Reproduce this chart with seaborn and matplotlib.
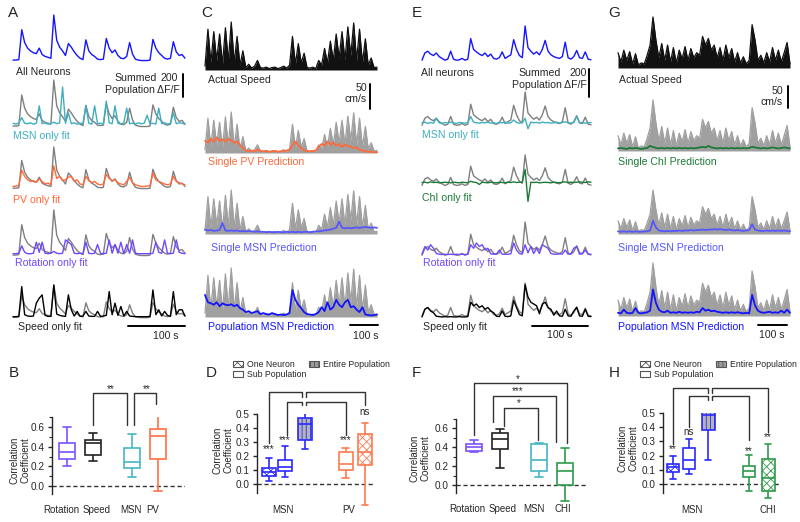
import numpy as np
import pandas as pd
import seaborn as sns
import matplotlib.pyplot as plt
from matplotlib.patches import Patch

sns.set_style("white")
plt.rcParams['font.family'] = ['Liberation Sans', 'DejaVu Sans']
plt.rcParams['hatch.linewidth'] = 0.6

W, H = 800, 522

# ---- trace data (relative units, 0 = baseline, 100 = largest peak) ----
A_all = [2, 2, 3, 68, 40, 28, 22, 18, 16, 28, 14, 10, 8, 6, 100, 45, 30, 22, 12, 38,
         30, 20, 12, 6, 3, 46, 22, 14, 10, 4, 3, 4, 49, 28, 18, 24, 12, 6, 5, 10,
         40, 15, 4, 2, 1, 1, 1, 2, 47, 28, 18, 12, 6, 4, 6, 42, 20, 12, 14, 6]
A_msn = [8, 6, 9, 20, 8, 7, 9, 6, 8, 45, 7, 9, 6, 8, 10, 7, 9, 85, 8, 30,
         7, 9, 6, 8, 7, 45, 8, 6, 45, 7, 8, 6, 55, 9, 7, 45, 8, 6, 9, 40,
         7, 8, 6, 9, 7, 8, 25, 7, 8, 6, 40, 7, 9, 6, 8, 30, 7, 9, 8, 6]
A_pv = [6, 7, 8, 45, 30, 22, 18, 20, 16, 24, 18, 12, 14, 10, 55, 25, 30, 20, 22, 28,
        30, 18, 22, 12, 10, 30, 20, 15, 18, 12, 10, 12, 35, 25, 20, 22, 15, 12, 10, 18,
        28, 15, 10, 8, 6, 6, 7, 8, 38, 22, 18, 15, 12, 10, 12, 30, 18, 15, 12, 10]
A_rot = [5, 5, 6, 22, 8, 5, 5, 6, 30, 8, 30, 6, 5, 6, 10, 6, 5, 6, 35, 30,
         25, 6, 5, 6, 5, 30, 6, 5, 6, 25, 6, 5, 6, 35, 6, 25, 6, 30, 5, 25,
         6, 35, 6, 5, 5, 5, 5, 5, 6, 30, 8, 6, 35, 6, 5, 6, 35, 8, 6, 5]
A_spd = [4, 4, 5, 95, 10, 6, 5, 6, 45, 60, 70, 8, 5, 5, 100, 12, 8, 6, 5, 70,
         25, 6, 20, 5, 6, 20, 6, 5, 5, 20, 5, 6, 8, 80, 10, 45, 8, 35, 6, 20,
         6, 5, 4, 4, 4, 4, 4, 5, 85, 10, 25, 6, 20, 8, 5, 80, 10, 25, 25, 6]

C_speed = [8, 85, 15, 80, 20, 75, 12, 88, 18, 100, 15, 70, 10, 40, 5, 12, 4, 8, 20, 5,
           4, 6, 3, 5, 6, 3, 5, 8, 4, 10, 70, 12, 55, 15, 35, 5, 4, 6, 3, 20,
           10, 45, 15, 60, 20, 75, 25, 80, 20, 90, 30, 98, 20, 85, 15, 65, 10, 25, 5, 6]
C_pv = [30, 25, 35, 28, 38, 30, 33, 28, 35, 30, 25, 28, 20, 12, 6, 5, 6, 4, 8, 5,
        4, 5, 3, 4, 5, 3, 4, 5, 6, 8, 20, 28, 18, 12, 6, 5, 4, 5, 6, 15,
        22, 18, 28, 20, 25, 18, 22, 15, 20, 18, 15, 12, 14, 8, 6, 4, 3, 3, 2, 2]
C_smsn = [10, 8, 9, 7, 8, 9, 25, 8, 7, 8, 7, 8, 6, 7, 6, 7, 6, 5, 6, 5,
          5, 4, 5, 4, 4, 5, 4, 4, 5, 4, 5, 4, 5, 4, 5, 5, 4, 5, 6, 6,
          7, 8, 9, 10, 12, 14, 28, 14, 13, 14, 13, 14, 15, 14, 15, 16, 15, 14, 15, 14]
C_pmsn = [45, 30, 28, 25, 30, 22, 28, 25, 24, 26, 22, 25, 18, 15, 10, 12, 8, 10, 12, 6,
          8, 6, 5, 8, 6, 4, 5, 4, 5, 8, 55, 35, 25, 18, 10, 6, 5, 4, 6, 10,
          20, 12, 30, 15, 20, 35, 25, 20, 30, 35, 20, 22, 15, 10, 20, 5, 4, 3, 4, 5]

E_all = [5, 25, 30, 22, 18, 25, 15, 10, 5, 8, 30, 8, 5, 6, 10, 5, 8, 65, 35, 28,
         22, 18, 25, 15, 22, 10, 8, 12, 28, 10, 15, 20, 62, 35, 18, 12, 100, 40, 30, 22,
         28, 20, 35, 60, 30, 20, 15, 12, 10, 15, 55, 12, 8, 15, 32, 12, 10, 28, 8, 6]
E_msn = [12, 14, 10, 13, 11, 25, 12, 10, 13, 11, 14, 12, 10, 13, 12, 11, 13, 30, 14, 12,
         11, 13, 12, 14, 11, 12, 10, 13, 12, 14, 11, 12, 20, 13, 11, 12, 25, -5, 14, 12,
         13, 11, 14, 12, 13, 11, 12, 14, 11, 13, 15, 12, 11, 13, 30, 12, 13, 11, 12, 13]
E_chi = [14, 15, 13, 16, 14, 15, 13, 14, 15, 14, 13, 15, 14, 13, 15, 14, 13, 18, 15, 14,
         8, 15, 14, 13, 15, 14, 13, 15, 14, 13, 15, 14, 16, 14, 15, 14, 55, -45, 15, 14,
         15, 13, 14, 15, 14, 13, 15, 14, 13, 15, 16, 14, 15, 14, 15, 16, 15, 14, 16, 15]
E_rot = [8, 30, 20, 35, 25, 10, 8, 7, 8, 7, 8, 7, 8, 7, 8, 7, 8, 35, 25, 40,
         30, 35, 20, 25, 9, 8, 8, 20, 8, 8, 8, 9, 40, 20, 10, 8, 35, 12, 30, 10,
         25, 10, 35, 30, 25, 10, 8, 8, 9, 8, 20, 8, 9, 25, 30, 8, 9, 20, 8, 8]
E_spd = [3, 25, 30, 20, 15, 5, 4, 3, 4, 3, 4, 3, 3, 4, 3, 3, 4, 45, 35, 40,
         30, 35, 25, 30, 20, 15, 5, 4, 20, 5, 4, 6, 50, 30, 10, 6, 95, 60, 45, 40,
         35, 12, 40, 45, 30, 25, 8, 20, 6, 5, 25, 6, 5, 20, 30, 6, 5, 25, 5, 4]

G_speed = [30, 12, 35, 15, 32, 8, 28, 6, 10, 8, 25, 45, 100, 55, 20, 48, 15, 45, 12, 40,
           10, 35, 18, 42, 15, 38, 20, 30, 25, 62, 45, 58, 35, 45, 20, 40, 15, 45, 20, 38,
           12, 30, 10, 22, 8, 15, 85, 55, 15, 25, 10, 30, 12, 40, 15, 35, 12, 30, 50, 8]
G_chi = [5, 6, 5, 4, 6, 5, 6, 5, 4, 5, 6, 10, 8, 6, 5, 6, 5, 6, 5, 6,
         5, 6, 5, 6, 5, 6, 5, 6, 7, 8, 7, 10, 7, 6, 5, 6, 5, 6, 5, 6,
         5, 6, 5, 6, 5, 6, 8, 7, 6, 5, 6, 5, 6, 7, 6, 5, 6, 7, 6, 5]
G_smsn = [6, 5, 6, 5, 6, 5, 6, 5, 5, 6, 6, 8, 30, 15, 8, 7, 6, 7, 6, 7,
          7, 8, 7, 8, 8, 9, 8, 9, 9, 10, 9, 10, 10, 11, 10, 11, 10, 9, 10, 9,
          8, 9, 8, 7, 8, 9, 22, 10, 8, 7, 7, 8, 7, 8, 7, 8, 7, 8, 7, 6]
G_pmsn = [6, 5, 12, 6, 5, 6, 15, 6, 5, 6, 7, 10, 50, 25, 12, 8, 7, 10, 6, 7,
          6, 8, 6, 7, 6, 7, 6, 8, 7, 15, 10, 12, 9, 10, 8, 7, 6, 7, 6, 7,
          6, 7, 6, 5, 6, 5, 40, 20, 10, 7, 6, 7, 8, 6, 7, 6, 10, 6, 12, 6]

# ---- box data: [min, q1, median, q3, max] ----
B_names = ['Rotation', 'Speed', 'MSN', 'PV']
B_stats = [[0.20, 0.27, 0.35, 0.435, 0.597], [0.257, 0.315, 0.435, 0.47, 0.54],
           [0.093, 0.185, 0.245, 0.385, 0.53], [-0.05, 0.274, 0.51, 0.583, 0.785]]
D_groups = ['MSN', 'PV']
D_kinds = ['one', 'sub', 'all', 'sub', 'one']
D_stats = [[0.024, 0.06, 0.083, 0.114, 0.186], [0.048, 0.09, 0.121, 0.171, 0.274],
           [0.25, 0.312, 0.431, 0.474, 0.536], [0.04, 0.102, 0.143, 0.229, 0.257],
           [-0.148, 0.136, 0.226, 0.36, 0.436]]
D_sig = ['***', '***', '', '***', 'ns']
F_names = ['Rotation', 'Speed', 'MSN', 'CHI']
F_stats = [[0.35, 0.355, 0.40, 0.435, 0.47], [0.174, 0.383, 0.487, 0.55, 0.59],
           [0.08, 0.15, 0.26, 0.435, 0.445], [-0.167, 0.0, 0.146, 0.233, 0.39]]
H_groups = ['MSN', 'CHI']
H_kinds = ['one', 'sub', 'all', 'sub', 'one']
H_stats = [[0.033, 0.087, 0.118, 0.141, 0.198], [0.071, 0.104, 0.17, 0.252, 0.318],
           [0.17, 0.382, 0.486, 0.552, 0.59], [-0.05, 0.052, 0.092, 0.127, 0.205],
           [-0.1, -0.05, 0.04, 0.175, 0.283]]
H_sig = ['**', 'ns', '', '**', '**']

# colours
BLUE, LBLUE, TEAL = '#1414ff', '#5656ff', '#3eafc0'
ORANGE, PURPLE, GREEN = '#ff6a3a', '#7048ff', '#1c7a38'
GRAY, LGRAY = '#7f7f7f', '#a0a0a0'

fig = plt.figure(figsize=(8, 5.22), dpi=100)


def px_box(x0, y0, x1, y1):
    return [x0 / W, 1 - y1 / H, (x1 - x0) / W, (y1 - y0) / H]


def ftxt(x, y, s, **kw):
    kw.setdefault('fontsize', 7.6)
    kw.setdefault('va', 'center')
    fig.text(x / W, 1 - y / H, s, **kw)


def fline(xs, ys, lw=1.4):
    fig.add_artist(plt.Line2D([x / W for x in xs], [1 - y / H for y in ys],
                              color='black', lw=lw))


def trace_row(x0, x1, ytop, ybase, traces, pad=8, fill=False):
    ax = fig.add_axes(px_box(x0, ytop, x1, ybase + pad))
    for k, (vals, color, lw) in enumerate(traces):
        t = np.arange(len(vals))
        y = np.asarray(vals, float)
        if fill and k == 0:
            ax.fill_between(t, 0, y, color=color, lw=0)
        sns.lineplot(x=t, y=y, ax=ax, color=color, lw=lw, clip_on=False)
    ax.set_xlim(0, len(traces[0][0]) - 1)
    ax.set_ylim(-pad * 100 / (ybase - ytop), 100)
    ax.axis('off')
    return ax


# ---- panel A ----
x0, x1 = 13, 185
trace_row(x0, x1, 15, 61, [(A_all, BLUE, 1.0)])
trace_row(x0, x1, 80, 127, [(A_all, GRAY, 1.0), (A_msn, TEAL, 1.0)])
trace_row(x0, x1, 147, 189, [(A_all, GRAY, 1.0), (A_pv, ORANGE, 1.0)])
trace_row(x0, x1, 210, 256, [(A_all, GRAY, 1.0), (A_rot, PURPLE, 1.0)])
trace_row(x0, x1, 285, 318, [(A_all, GRAY, 1.0), (A_spd, 'black', 1.0)])

# ---- panel C ----
x0, x1 = 205, 377
trace_row(x0, x1, 22, 70, [(C_speed, '#111111', 0.9)], fill=True)
trace_row(x0, x1, 112, 153, [(C_speed, LGRAY, 0.9), (C_pv, ORANGE, 1.3)], fill=True)
trace_row(x0, x1, 190, 234, [(C_speed, LGRAY, 0.9), (C_smsn, LBLUE, 1.3)], fill=True)
trace_row(x0, x1, 268, 317, [(C_speed, LGRAY, 0.9), (C_pmsn, BLUE, 1.3)], fill=True)

# ---- panel E ----
x0, x1 = 422, 591
trace_row(x0, x1, 26, 62, [(E_all, BLUE, 1.0)])
trace_row(x0, x1, 92, 127, [(E_all, GRAY, 1.0), (E_msn, TEAL, 1.0)])
trace_row(x0, x1, 155, 187, [(E_all, GRAY, 1.0), (E_chi, GREEN, 1.0)])
trace_row(x0, x1, 222, 257, [(E_all, GRAY, 1.0), (E_rot, PURPLE, 1.0)])
trace_row(x0, x1, 283, 318, [(E_all, GRAY, 1.0), (E_spd, 'black', 1.0)])

# ---- panel G ----
x0, x1 = 618, 790
trace_row(x0, x1, 17, 68, [(G_speed, '#111111', 0.9)], fill=True)
trace_row(x0, x1, 100, 151, [(G_speed, LGRAY, 0.9), (G_chi, GREEN, 1.3)], fill=True)
trace_row(x0, x1, 190, 234, [(G_speed, LGRAY, 0.9), (G_smsn, LBLUE, 1.3)], fill=True)
trace_row(x0, x1, 263, 316, [(G_speed, LGRAY, 0.9), (G_pmsn, BLUE, 1.3)], fill=True)

# trace labels
ftxt(16, 72, 'All Neurons')
ftxt(114, 78, 'Summed')
ftxt(178, 78, '200', ha='right')
ftxt(180, 90, 'Population ΔF/F', ha='right')
fline([183, 183], [74, 97])
ftxt(13, 136, 'MSN only fit', color=TEAL)
ftxt(13, 200, 'PV only fit', color=ORANGE)
ftxt(15, 263, 'Rotation only fit', color=PURPLE)
ftxt(18, 327, 'Speed only fit')
fline([128, 185], [326, 326])
ftxt(166, 336, '100 s', ha='center')

ftxt(208, 80, 'Actual Speed')
ftxt(367, 88, '50', ha='right')
ftxt(367, 99, 'cm/s', ha='right')
fline([370, 370], [84, 109])
ftxt(208, 162, 'Single PV Prediction', color=ORANGE)
ftxt(211, 248, 'Single MSN Prediction', color=LBLUE)
ftxt(208, 327, 'Population MSN Prediction', color=BLUE)
fline([350, 378], [325, 325])
ftxt(366, 336, '100 s', ha='center')

ftxt(421, 73, 'All neurons')
ftxt(518, 73, 'Summed')
ftxt(587, 73, '200', ha='right')
ftxt(587, 85, 'Population ΔF/F', ha='right')
fline([589, 589], [69, 97])
ftxt(422, 135, 'MSN only fit', color=TEAL)
ftxt(422, 198, 'ChI only fit', color=GREEN)
ftxt(423, 263, 'Rotation only fit', color=PURPLE)
ftxt(423, 327, 'Speed only fit')
fline([532, 588], [326, 326])
ftxt(560, 335, '100 s', ha='center')

ftxt(619, 80, 'Actual Speed')
ftxt(783, 91, '50', ha='right')
ftxt(783, 102, 'cm/s', ha='right')
fline([788, 788], [86, 108])
ftxt(618, 162, 'Single ChI Prediction', color=GREEN)
ftxt(618, 248, 'Single MSN Prediction', color=LBLUE)
ftxt(618, 327, 'Population MSN Prediction', color=BLUE)
fline([758, 787], [325, 325])
ftxt(772, 335, '100 s', ha='center')

for lab, (lx, ly) in zip('ABCDEFGH', [(13, 13), (14, 373), (207, 13), (211, 373),
                                      (417, 13), (416, 373), (614, 13), (614, 373)]):
    ftxt(lx, ly, lab, fontsize=11, ha='center')

# ---- box panels ----
HATCH = {'one': ('xxxx', 'white'), 'sub': ('', 'white'), 'all': ('||||', '#b4b4b4')}


def box_panel(xpx, xs, ypx, ys, xlim, ylim, spine, positions, stats, colors,
              width, kinds=None, minor=None, yticks=None):
    rect = (xpx + xs * xlim[0], ypx - ys * ylim[1], xpx + xs * xlim[1], ypx - ys * ylim[0])
    ax = fig.add_axes(px_box(*rect))
    ax.axhline(0, ls=(0, (3, 2)), color='#333333', lw=1.0, zorder=0)
    if kinds is None:
        kinds = ['sub'] * len(stats)
    for p, s, c, k in zip(positions, stats, colors, kinds):
        df = pd.DataFrame({'pos': [p] * len(s), 'val': s})
        sns.boxplot(data=df, x='pos', y='val', native_scale=True, color=c, linecolor=c,
                    fill=True, whis=(0, 100), width=width, linewidth=1.2, ax=ax)
        patch = ax.patches[-1]
        hatch, fc = HATCH[k]
        patch.set_facecolor(fc)
        patch.set_hatch(hatch)
        if hasattr(patch, 'set_hatchcolor'):
            patch.set_hatchcolor(c)
        patch.set_edgecolor(c)
    ax.set_xlim(*xlim)
    ax.set_ylim(*ylim)
    ax.set_xlabel('')
    ax.set_ylabel('')
    sns.despine(ax=ax, bottom=True)
    ax.spines['left'].set_bounds(*spine)
    ax.spines['left'].set_linewidth(1.0)
    ax.set_xticks([])
    if yticks is not None:
        ax.set_yticks(yticks)
        ax.set_yticklabels([f'{v:.1f}' for v in yticks])
    if minor is not None:
        ax.set_yticks(minor, minor=True)
    ax.tick_params(axis='y', which='major', length=3, width=1, labelsize=7.2, pad=2, left=True)
    ax.tick_params(axis='y', which='minor', length=2, width=0.8, left=True)
    return ax


def bracket(ax, xa, xb, ytop, ya, yb):
    ax.plot([xa, xa, xb, xb], [ya, ytop, ytop, yb], color='#333333', lw=1.0, clip_on=False)


def atext(ax, x, y, s, **kw):
    kw.setdefault('fontsize', 7)
    ax.text(x, y, s, ha='center', va='center', clip_on=False, **kw)


# B
axB = box_panel(67, 26, 486, 98.3, (-0.58, 4.54), (-0.08, 0.7), (-0.085, 0.7),
                [0, 1, 2.5, 3.5], B_stats, ['#7a52ff', '#222222', '#45b5c5', '#ff7048'],
                0.58, yticks=[0.0, 0.2, 0.4, 0.6], minor=[0.1, 0.3, 0.5, 0.7])
for x, s in zip([-0.2, 1.15, 2.45, 3.3], B_names):
    atext(axB, x, -0.244, s)
bracket(axB, 1.0, 2.31, 0.946, 0.62, 0.62)
bracket(axB, 2.58, 3.42, 0.946, 0.62, 0.834)
atext(axB, 1.7, 0.99, '**')
atext(axB, 3.05, 0.99, '**')
ftxt(20, 460, 'Correlation\nCoefficient', rotation=90, ha='center', fontsize=7,
     multialignment='center')

# D
d_pos = [0, 1, 2.25, 4.8, 6.0]
d_col = ['#2a2aff', '#2a2aff', '#2a2aff', '#ff7a50', '#ff7a50']
axD = box_panel(269, 16, 484, 140, (-0.75, 6.6), (-0.17, 0.5), (-0.065, 0.5),
                d_pos, D_stats, d_col, 0.85, kinds=D_kinds,
                yticks=[0.0, 0.1, 0.2, 0.3, 0.4, 0.5])
for x, s in zip([0.875, 5.0], D_groups):
    atext(axD, x, -0.186, s)
bracket(axD, 0, 2.06, 0.657, 0.293, 0.621)
bracket(axD, 2.31, 6.0, 0.657, 0.621, 0.564)
bracket(axD, 1.12, 2.06, 0.586, 0.35, 0.564)
bracket(axD, 2.31, 4.81, 0.586, 0.564, 0.35)
for x, y, s in zip(d_pos, [0.25, 0.314, 0, 0.314, 0.514], D_sig):
    if s:
        atext(axD, x, y, s)
ftxt(223, 450, 'Correlation\nCoefficient', rotation=90, ha='center', fontsize=7,
     multialignment='center')

# F
axF = box_panel(474, 26, 485, 95, (-0.69, 4.35), (-0.18, 0.7), (-0.085, 0.7),
                [0, 1, 2.5, 3.5], F_stats, ['#7a52ff', '#222222', '#45b5c5', '#2e9a4a'],
                0.58, yticks=[0.0, 0.2, 0.4, 0.6], minor=[0.1, 0.3, 0.5, 0.7])
for x, s in zip([-0.27, 1.08, 2.31, 3.42], F_names):
    atext(axF, x, -0.253, s)
bracket(axF, 0, 3.58, 1.074, 0.526, 0.442)
bracket(axF, 0.73, 3.15, 0.937, 0.663, 0.453)
bracket(axF, 1.15, 2.46, 0.81, 0.62, 0.474)
atext(axF, 1.69, 1.12, '*')
atext(axF, 1.69, 0.99, '***')
atext(axF, 1.73, 0.86, '*')
ftxt(420, 458, 'Correlation\nCoefficient', rotation=90, ha='center', fontsize=7,
     multialignment='center')

# H
h_pos = [0, 1, 2.2, 4.75, 5.95]
h_col = ['#2a2aff', '#2a2aff', '#2a2aff', '#2e9a4a', '#2e9a4a']
axH = box_panel(673, 16, 484, 142.4, (-0.625, 6.69), (-0.12, 0.5), (-0.063, 0.5),
                h_pos, H_stats, h_col, 0.8, kinds=H_kinds,
                yticks=[0.0, 0.1, 0.2, 0.3, 0.4, 0.5])
for x, s in zip([1.19, 5.94], H_groups):
    atext(axH, x, -0.183, s)
bracket(axH, 0, 2.19, 0.674, 0.28, 0.64)
bracket(axH, 2.44, 5.94, 0.674, 0.64, 0.365)
bracket(axH, 1, 2.19, 0.618, 0.4, 0.59)
bracket(axH, 2.44, 4.75, 0.618, 0.59, 0.31)
for x, y, s in zip(h_pos, [0.246, 0.365, 0, 0.232, 0.33], H_sig):
    if s:
        atext(axH, x, y, s)
ftxt(628, 448, 'Correlation\nCoefficient', rotation=90, ha='center', fontsize=7,
     multialignment='center')

# legends for D and H
handles = [Patch(facecolor='white', edgecolor='#555555', hatch='xxxx', lw=0.8),
           Patch(facecolor='white', edgecolor='#555555', lw=0.8),
           Patch(facecolor='#9a9a9a', edgecolor='#555555', hatch='||||', lw=0.8)]
labels = ['One Neuron', 'Sub Population', 'Entire Population']
for lx in (233, 640):
    fig.legend(handles, labels, ncol=2, loc='upper left',
               bbox_to_anchor=(lx / W, 1 - 360 / H), frameon=False, fontsize=6.3,
               handlelength=1.1, handleheight=0.6, handletextpad=0.5,
               columnspacing=0.3, labelspacing=0.15, borderaxespad=0, borderpad=0)

fig.savefig('out.png', dpi=100)
